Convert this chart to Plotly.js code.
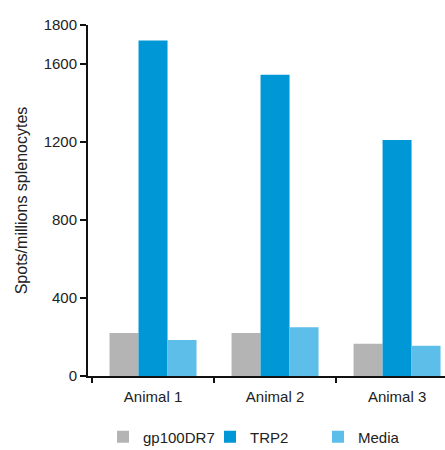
<!DOCTYPE html>
<html>
<head>
<meta charset="utf-8">
<script src="https://cdn.plot.ly/plotly-3.0.1.min.js"></script>
<style>html,body{margin:0;padding:0;background:#fff}#chart{width:445px;height:450px}</style>
</head>
<body>
<div id="chart"></div>
<script>
const categories = ["Animal 1", "Animal 2", "Animal 3"];
const gp100DR7 = [220, 220, 165];
const TRP2 = [1720, 1545, 1210];
const Media = [185, 250, 155];
const yTickVals = [0, 400, 800, 1200, 1600, 1800];
const yTickText = ["0", "400", "800", "1200", "1600", "1800"];

const tickFont = {family: "Liberation Sans, Arial, sans-serif", size: 15, color: "#222"};
const titleFont = {family: "Liberation Sans, Arial, sans-serif", size: 16, color: "#222"};

const traces = [
  {type: "bar", name: "gp100DR7", x: categories, y: gp100DR7, marker: {color: "#b4b4b4"}, legend: "legend"},
  {type: "bar", name: "TRP2", x: categories, y: TRP2, marker: {color: "#0097d6"}, legend: "legend2"},
  {type: "bar", name: "Media", x: categories, y: Media, marker: {color: "#5dbfe9"}, legend: "legend3"}
];

function leg(px) {
  return {orientation: "h", xref: "container", yref: "container", x: px / 445, xanchor: "left",
          y: 0.029, yanchor: "middle", font: tickFont, itemclick: false, bgcolor: "rgba(0,0,0,0)"};
}

const layout = {
  width: 445, height: 450,
  margin: {l: 88, r: 0, t: 25, b: 74, autoexpand: false},
  paper_bgcolor: "#fff", plot_bgcolor: "#fff",
  font: tickFont,
  barmode: "group", bargap: 0.287, bargroupgap: 0,
  showlegend: true,
  legend: leg(103), legend2: leg(210), legend3: leg(318),
  xaxis: {
    type: "category", range: [-0.533, 2.393], showgrid: false, zeroline: false,
    showline: true, linecolor: "#111", linewidth: 2,
    ticks: "outside", tickson: "boundaries", ticklen: 5, tickwidth: 2, tickcolor: "#111",
    tickfont: tickFont, ticklabelstandoff: 6
  },
  yaxis: {
    range: [0, 1800], showgrid: false, zeroline: false,
    showline: true, linecolor: "#111", linewidth: 2,
    ticks: "outside", ticklen: 6, tickwidth: 2, tickcolor: "#111",
    tickvals: yTickVals, ticktext: yTickText, tickfont: tickFont,
    title: {text: "Spots/millions splenocytes", font: titleFont, standoff: 12}
  }
};

Plotly.newPlot("chart", traces, layout, {displayModeBar: false, staticPlot: true});
</script>
</body>
</html>
